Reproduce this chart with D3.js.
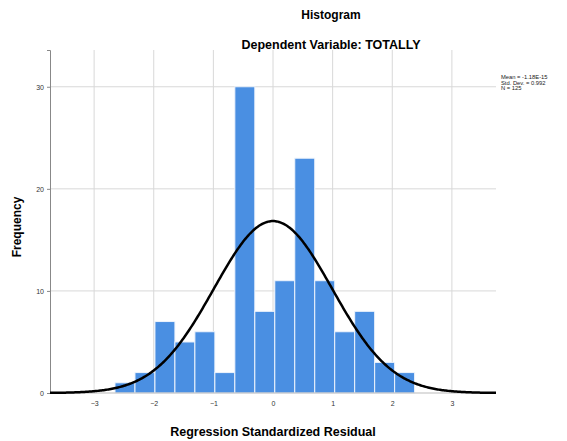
<!DOCTYPE html>
<html lang="en">
<head>
  <meta charset="UTF-8">
  <title>Histogram</title>
  <script src="https://d3js.org/d3.v7.min.js"></script>
  <style>
    body{margin:0; background:#fff;}
    svg{display:block; font-family:"Liberation Sans", Arial, sans-serif;}
  </style>
</head>
<body>
<div id="chart"></div>
<script>
// DATA
const binEdges = [-2.65, -2.315, -1.98, -1.645, -1.31, -0.975, -0.64, -0.305, 0.03, 0.365, 0.70, 1.035, 1.37, 1.705, 2.04, 2.375];
const counts = [1, 2, 7, 5, 6, 2, 30, 8, 11, 23, 11, 6, 8, 3, 2];
const xTicks = [-3, -2, -1, 0, 1, 2, 3];
const yTicks = [0, 10, 20, 30];
const statsLines = ["Mean = -1.18E-15", "Std. Dev. = 0.992", "N = 125"];
const mean = 0, sd = 0.992, n = 125;

// CONSTANTS
const width = 567, height = 441;
const plot = {left: 50, right: 496, top: 50, bottom: 393};
const barColor = "#4a8fe2";
const gridColor = "#d8d8d8";

const bins = counts.map((c, i) => ({x0: binEdges[i], x1: binEdges[i + 1], count: c}));

const x = d3.scaleLinear().domain([-3.74, 3.74]).range([plot.left, plot.right]);
const y = d3.scaleLinear().domain([0, 33.6]).range([plot.bottom, plot.top]);

const svg = d3.select("#chart").append("svg")
  .attr("width", width)
  .attr("height", height);

// GRID
svg.append("g").selectAll("line")
  .data(xTicks)
  .join("line")
  .attr("x1", d => x(d)).attr("x2", d => x(d))
  .attr("y1", plot.top).attr("y2", plot.bottom)
  .attr("stroke", gridColor).attr("stroke-width", 1);

svg.append("g").selectAll("line")
  .data(yTicks.filter(d => d > 0))
  .join("line")
  .attr("x1", plot.left).attr("x2", plot.right)
  .attr("y1", d => y(d)).attr("y2", d => y(d))
  .attr("stroke", gridColor).attr("stroke-width", 1);

// BARS
svg.append("g").selectAll("rect")
  .data(bins)
  .join("rect")
  .attr("x", d => x(d.x0))
  .attr("width", d => x(d.x1) - x(d.x0))
  .attr("y", d => y(d.count))
  .attr("height", d => y(0) - y(d.count))
  .attr("fill", barColor)
  .attr("stroke", "#eef4fc")
  .attr("stroke-width", 1);

// AXES
const yAxis = svg.append("g")
  .attr("transform", `translate(${plot.left},0)`)
  .call(d3.axisLeft(y).tickValues(yTicks).tickSize(3).tickFormat(d3.format("d")));
const xAxis = svg.append("g")
  .attr("transform", `translate(0,${plot.bottom})`)
  .call(d3.axisBottom(x).tickValues(xTicks).tickSize(0).tickPadding(8).tickFormat(d3.format("d")));
xAxis.select(".domain").remove();
svg.append("line")
  .attr("x1", plot.left).attr("x2", plot.right)
  .attr("y1", plot.bottom).attr("y2", plot.bottom)
  .attr("stroke", "#bbb");
yAxis.select(".domain").attr("stroke", "#888");
yAxis.selectAll(".tick line").attr("stroke", "#888");
[xAxis, yAxis].forEach(a => a.selectAll("text")
  .attr("font-size", 7).attr("fill", "#333")
  .attr("font-family", "Liberation Sans, Arial, sans-serif"));

// NORMAL CURVE
const binW = binEdges[1] - binEdges[0];
const pdf = v => Math.exp(-0.5 * ((v - mean) / sd) ** 2) / (sd * Math.sqrt(2 * Math.PI));
const curvePts = d3.range(x.domain()[0], x.domain()[1] + 0.001, 0.02);
svg.append("path")
  .datum(curvePts)
  .attr("fill", "none")
  .attr("stroke", "#000")
  .attr("stroke-width", 2.5)
  .attr("d", d3.line().x(d => x(d)).y(d => y(n * binW * pdf(d))));

// TEXTS
svg.append("text")
  .attr("x", 331).attr("y", 19)
  .attr("text-anchor", "middle")
  .attr("font-size", 12).attr("font-weight", "bold")
  .text("Histogram");
svg.append("text")
  .attr("x", 331).attr("y", 49)
  .attr("text-anchor", "middle")
  .attr("font-size", 12.5).attr("font-weight", "bold")
  .text("Dependent Variable: TOTALLY");
svg.append("text")
  .attr("x", 273).attr("y", 436)
  .attr("text-anchor", "middle")
  .attr("font-size", 12.5).attr("font-weight", "bold")
  .text("Regression Standardized Residual");
svg.append("text")
  .attr("transform", "translate(21,227) rotate(-90)")
  .attr("text-anchor", "middle")
  .attr("font-size", 12).attr("font-weight", "bold")
  .text("Frequency");

svg.append("g").selectAll("text")
  .data(statsLines)
  .join("text")
  .attr("x", 501)
  .attr("y", (d, i) => 79 + i * 5.6)
  .attr("font-size", 5.8)
  .attr("fill", "#222")
  .text(d => d);
</script>
</body>
</html>
